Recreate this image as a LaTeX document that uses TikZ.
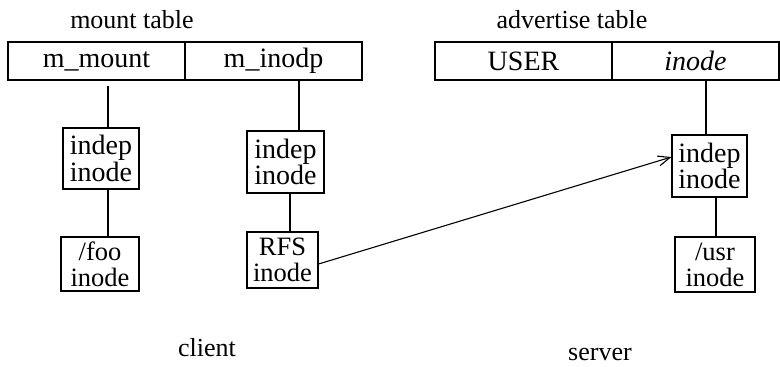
\documentclass[tikz,border=0pt]{standalone}
\usepackage{fontspec}
\setmainfont{Liberation Serif}
\usetikzlibrary{arrows.meta}

\begin{document}
\begin{tikzpicture}[x=1pt, y=-1pt, line width=1.1pt,
  cell/.style={draw, rectangle, inner sep=0pt, minimum height=38pt,
               font=\fontsize{28}{28}\selectfont},
  inobox/.style={draw, rectangle, inner sep=0pt, align=center,
                 font=\fontsize{28}{22.5}\selectfont},
  lowbox/.style={inobox, font=\fontsize{26.5}{26}\selectfont},
  lbl/.style={inner sep=0pt, font=\fontsize{26}{26}\selectfont},
  barb/.style={-{Straight Barb[length=12pt,width=10pt]}},
]
\useasboundingbox (0,0) rectangle (780,367);

% titles
\node[lbl] (mtitle) at (132,20) {mount table};
\node[lbl] (atitle) at (572,20) {advertise table};

% mount table
\node[cell, minimum width=177pt] (mmount) at (96.5,61) {m\_mount};
\node[cell, minimum width=177pt] (minodp) at (273.5,61) {m\_inodp};

% advertise table
\node[cell, minimum width=177pt] (user)  at (523.5,61) {USER};
\node[cell, minimum width=167pt] (inodecell) at (695.5,61) {\itshape inode};

% client side inodes
\node[inobox, minimum width=76pt, minimum height=61pt] (lindep) at (101,158.5) {indep\\inode};
\node[lowbox, minimum width=78pt, minimum height=54pt] (lfoo)   at (100,264)   {/foo\\inode};
\node[inobox, minimum width=77pt, minimum height=62pt] (mindep) at (285.5,162) {indep\\inode};
\node[lowbox, minimum width=71pt, minimum height=56pt] (rfs)    at (282.5,260) {RFS\\inode};

% server side inodes
\node[inobox, minimum width=75pt, minimum height=62pt] (sindep) at (709.5,166) {indep\\inode};
\node[lowbox, minimum width=80pt, minimum height=55pt] (susr)   at (715,264.5) {/usr\\inode};

% footers
\node[lbl] (client) at (207,348) {client};
\node[lbl] (server) at (600,354) {server};

% links
\draw[shorten <=5pt] ([xshift=7pt]lindep.north |- mmount.south) -- ([xshift=7pt]lindep.north);
\draw ([xshift=7pt]lindep.south) -- ([xshift=7pt]lindep.south |- lfoo.north);
\draw ([xshift=13.5pt]mindep.north |- minodp.south) -- ([xshift=13.5pt]mindep.north);
\draw ([xshift=4.5pt]mindep.south) -- ([xshift=4.5pt]mindep.south |- rfs.north);
\draw ([xshift=-3.5pt]sindep.north |- inodecell.south) -- ([xshift=-3.5pt]sindep.north);
\draw ([xshift=6.5pt]sindep.south) -- ([xshift=6.5pt]sindep.south |- susr.north);
\draw[barb] ([yshift=-4pt]rfs.east) -- ([yshift=9pt]sindep.west);
\end{tikzpicture}
\end{document}
